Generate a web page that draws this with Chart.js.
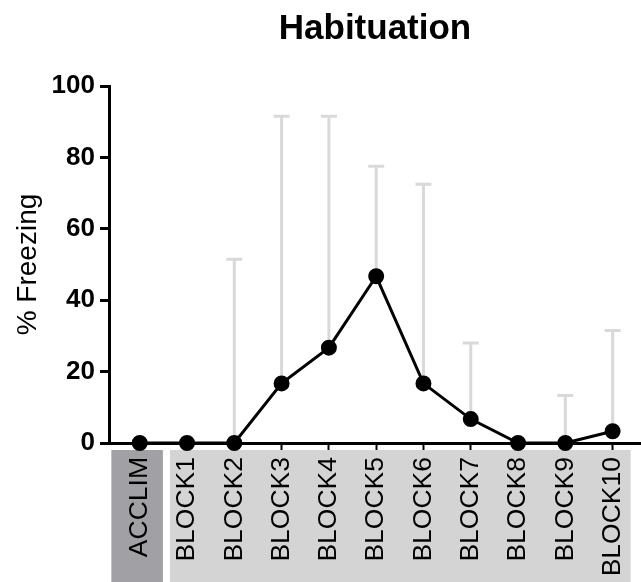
<!DOCTYPE html>
<html>
<head>
<meta charset="utf-8">
<script src="https://cdn.jsdelivr.net/npm/chart.js@4"></script>
<style>
  html, body { margin: 0; padding: 0; background: #fff; }
  #wrap { width: 641px; height: 582px; }
</style>
</head>
<body>
<div id="wrap"><canvas id="myChart" width="641" height="582"></canvas></div>
<script>
const labels = ["ACCLIM", "BLOCK1", "BLOCK2", "BLOCK3", "BLOCK4", "BLOCK5",
                "BLOCK6", "BLOCK7", "BLOCK8", "BLOCK9", "BLOCK10"];
const freezing = [0, 0, 0, 16.7, 26.7, 46.7, 16.7, 6.7, 0, 0, 3.3];
// top of each error bar (null = no bar)
const errTop = [null, null, 51.5, 91.5, 91.5, 77.5, 72.5, 28, null, 13.3, 31.5];
const yTicks = [0, 20, 40, 60, 80, 100];

const FONT = "'Liberation Sans', Arial, sans-serif";

// grey boxes behind the category labels: [from, to] in x units
const groups = [
    { from: -0.6, to: 0.49, color: "#a1a1a5" },
    { from: 0.64, to: 10.38, color: "#d4d4d4" }
];

const labelBoxes = {
    id: "labelBoxes",
    beforeDraw(chart) {
        const { ctx, scales: { x }, chartArea } = chart;
        ctx.save();
        groups.forEach(g => {
            const x0 = x.getPixelForValue(g.from);
            const x1 = x.getPixelForValue(g.to);
            const top = chartArea.bottom + 7;
            ctx.fillStyle = g.color;
            ctx.fillRect(x0, top, x1 - x0, chart.height - top);
        });
        ctx.restore();
    }
};

const errorBars = {
    id: "errorBars",
    beforeDatasetsDraw(chart) {
        const { ctx, scales: { x, y } } = chart;
        ctx.save();
        ctx.strokeStyle = "#d9d9d9";
        ctx.lineWidth = 3;
        errTop.forEach((top, i) => {
            if (top === null) return;
            const px = x.getPixelForValue(i);
            const y0 = y.getPixelForValue(freezing[i]);
            const y1 = y.getPixelForValue(top);
            ctx.beginPath();
            ctx.moveTo(px, y0);
            ctx.lineTo(px, y1);
            ctx.moveTo(px - 8, y1);
            ctx.lineTo(px + 8, y1);
            ctx.stroke();
        });
        ctx.restore();
    }
};

const ctx = document.getElementById("myChart").getContext("2d");

new Chart(ctx, {
    type: "scatter",
    data: {
        datasets: [{
            data: freezing.map((v, i) => ({ x: i, y: v })),
            showLine: true,
            borderColor: "#000",
            borderWidth: 3,
            backgroundColor: "#000",
            pointRadius: 6.5,
            pointHoverRadius: 6.5,
            clip: false
        }]
    },
    options: {
        responsive: false,
        animation: false,
        events: [],
        layout: { padding: 0, autoPadding: false },
        plugins: {
            legend: { display: false },
            tooltip: { enabled: false },
            title: {
                display: true,
                text: "Habituation",
                fullSize: false,
                color: "#000",
                font: { family: FONT, size: 35, weight: "bold" },
                padding: { top: 8, bottom: 36 }
            }
        },
        scales: {
            x: {
                type: "linear",
                min: -0.65,
                max: 10.6,
                afterBuildTicks: s => { s.ticks = labels.map((_, i) => ({ value: i })); },
                afterFit: s => {
                    s.height = 139;
                    s.paddingLeft = 0;
                    s.paddingRight = 0;
                },
                border: { display: true, color: "#000", width: 3 },
                grid: {
                    drawOnChartArea: false,
                    drawTicks: true,
                    tickLength: 7,
                    tickWidth: 2,
                    tickColor: "#000"
                },
                ticks: {
                    autoSkip: false,
                    minRotation: 90,
                    maxRotation: 90,
                    padding: 7,
                    color: "#000",
                    font: { family: FONT, size: 26.5 },
                    callback: v => labels[v]
                }
            },
            y: {
                min: 0,
                max: 100,
                afterBuildTicks: s => { s.ticks = yTicks.map(v => ({ value: v })); },
                afterFit: s => { s.width = 109; },
                border: { display: true, color: "#000", width: 3 },
                grid: {
                    drawOnChartArea: false,
                    drawTicks: true,
                    tickLength: 9,
                    tickWidth: 3,
                    tickColor: "#000"
                },
                ticks: {
                    padding: 5,
                    color: "#000",
                    font: { family: FONT, size: 26, weight: "bold" }
                },
                title: {
                    display: true,
                    text: "% Freezing",
                    color: "#000",
                    font: { family: FONT, size: 28 },
                    padding: { top: 11, bottom: 0 }
                }
            }
        }
    },
    plugins: [labelBoxes, errorBars]
});
</script>
</body>
</html>
